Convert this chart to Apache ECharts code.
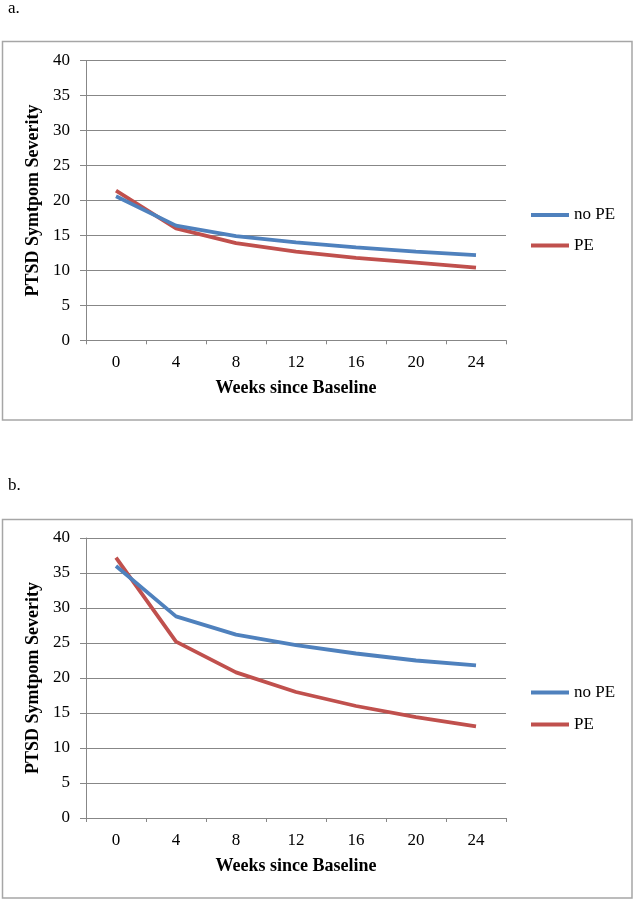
<!DOCTYPE html>
<html>
<head>
<meta charset="utf-8">
<script src="https://cdn.jsdelivr.net/npm/echarts@6/dist/echarts.min.js"></script>
<style>
html,body{margin:0;padding:0;background:#fff;}
#c{width:636px;height:900px;}
</style>
</head>
<body>
<div id="c"></div>
<script>
// ---- data ----
var weeks = ['0', '4', '8', '12', '16', '20', '24'];
var seriesNames = ['no PE', 'PE'];
var panelLabels = ['a.', 'b.'];
var yTicksMin = 0, yTicksMax = 40, yTicksStep = 5;
var xAxisTitle = 'Weeks since Baseline';
var yAxisTitle = 'PTSD Symtpom Severity';

var aNoPE = [20.6, 16.4, 14.9, 14.0, 13.3, 12.7, 12.2];
var aPE   = [21.4, 16.0, 13.9, 12.7, 11.8, 11.1, 10.4];
var bNoPE = [36.0, 28.8, 26.2, 24.7, 23.5, 22.5, 21.8];
var bPE   = [37.2, 25.2, 20.8, 18.0, 16.0, 14.4, 13.1];

// ---- styles ----
var FONT = '"Liberation Serif", "DejaVu Serif", serif';
var BLUE = '#4F81BD', RED = '#C0504D', GRID = '#878787', BORDER = '#a6a6a6';

var panels = [
  {top: 60.7, bottom: 340.3, noPE: aNoPE, pe: aPE, legendY: [215, 245.5], box: [2.5, 41.5, 629.5, 378.5], label: 9},
  {top: 538, bottom: 818, noPE: bNoPE, pe: bPE, legendY: [692.5, 724.5], box: [2.5, 519.5, 629.5, 378.5], label: 486}
];

var grids = [], xAxes = [], yAxes = [], series = [], legends = [], graphics = [];
panels.forEach(function (p, i) {
  grids.push({left: 86, right: 130, top: p.top, bottom: 900 - p.bottom, containLabel: false});
  xAxes.push({
    type: 'category', gridIndex: i, data: weeks, boundaryGap: true,
    axisLine: {lineStyle: {color: GRID, width: 1}},
    axisTick: {show: true, length: 4, lineStyle: {color: GRID}},
    axisLabel: {color: '#000', fontFamily: FONT, fontSize: 17, margin: 14},
    name: xAxisTitle, nameLocation: 'middle', nameGap: 39,
    nameTextStyle: {color: '#000', fontFamily: FONT, fontSize: 18, fontWeight: 'bold'}
  });
  yAxes.push({
    type: 'value', gridIndex: i, min: yTicksMin, max: yTicksMax, interval: yTicksStep,
    axisLine: {show: true, lineStyle: {color: GRID, width: 1}},
    axisTick: {show: true, length: 6, lineStyle: {color: GRID}},
    splitLine: {show: true, lineStyle: {color: GRID, width: 1}},
    axisLabel: {color: '#000', fontFamily: FONT, fontSize: 17, margin: 16},
    name: yAxisTitle, nameLocation: 'middle', nameGap: 36, nameRotate: 90,
    nameTextStyle: {color: '#000', fontFamily: FONT, fontSize: 18, fontWeight: 'bold'}
  });
  series.push({
    name: seriesNames[0], type: 'line', xAxisIndex: i, yAxisIndex: i, data: p.noPE,
    showSymbol: false, symbol: 'none', lineStyle: {color: BLUE, width: 3.8}, itemStyle: {color: BLUE},
    animation: false, z: 3
  });
  series.push({
    name: seriesNames[1], type: 'line', xAxisIndex: i, yAxisIndex: i, data: p.pe,
    showSymbol: false, symbol: 'none', lineStyle: {color: RED, width: 3.8}, itemStyle: {color: RED},
    animation: false, z: 2
  });
  seriesNames.forEach(function (nm, k) {
    legends.push({
      data: [nm], left: 531, top: p.legendY[k] - 8.5, padding: 0,
      icon: 'rect', itemWidth: 38, itemHeight: 4, selectedMode: false,
      textStyle: {color: '#000', fontFamily: FONT, fontSize: 17, lineHeight: 17}
    });
  });
  graphics.push({
    type: 'rect', silent: true, z: -1,
    shape: {x: p.box[0], y: p.box[1], width: p.box[2], height: p.box[3]},
    style: {fill: 'none', stroke: BORDER, lineWidth: 1.5}
  });
  graphics.push({
    type: 'text', left: 8, top: p.label - 9, silent: true,
    style: {text: panelLabels[i], font: '17px ' + FONT, fill: '#000'}
  });
});

var chart = echarts.init(document.getElementById('c'), null, {renderer: 'canvas'});
chart.setOption({
  animation: false,
  backgroundColor: '#fff',
  grid: grids, xAxis: xAxes, yAxis: yAxes, series: series, legend: legends,
  graphic: graphics
});
</script>
</body>
</html>
